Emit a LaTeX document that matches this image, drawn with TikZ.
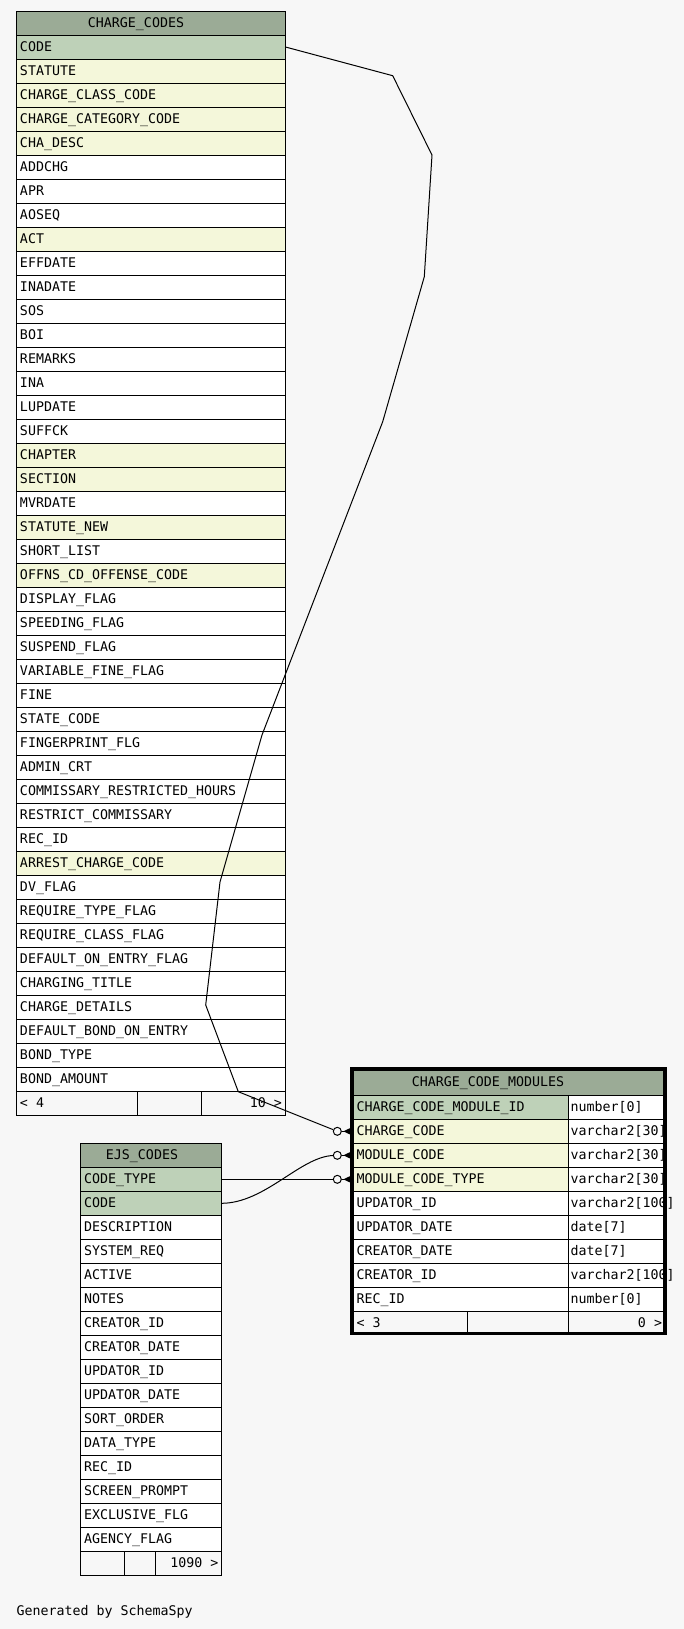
\documentclass[tikz,border=0pt]{standalone}
\usepackage{fontspec}
\newfontfamily\tabfont{DejaVu Sans Mono}
\definecolor{hdrc}{HTML}{9BAB96}
\definecolor{pkc}{HTML}{BED1B8}
\definecolor{fkc}{HTML}{F4F7DA}
\definecolor{bgc}{HTML}{F7F7F7}
\begin{document}
\begin{tikzpicture}[x=0.75pt,y=-0.75pt,
 cell/.style={draw=black,line width=0.75pt,inner sep=0pt,outer sep=0pt,anchor=north west,minimum height=18pt},
 txt/.style={inner sep=0pt,outer sep=0pt,anchor=base west,font=\tabfont\fontsize{9.97}{12}\selectfont},
 txr/.style={txt,anchor=base east},
 txc/.style={txt,anchor=base},
 conn/.style={draw=black,line width=0.75pt},
 odot/.style={circle,draw=black,line width=0.75pt,fill=bgc,minimum size=6pt,inner sep=0pt}]

\useasboundingbox[fill=bgc] (0,0) rectangle (684,1629);

% ---------------- CHARGE_CODES ----------------
\node[cell,fill=hdrc,minimum width=202.125pt] (cchd) at (16,11) {};
\node[txc] (cchdt) at (136,27) {CHARGE\_CODES};
\foreach[count=\i from 0] \nm/\c in {
 CODE/pkc, STATUTE/fkc, CHARGE\_CLASS\_CODE/fkc, CHARGE\_CATEGORY\_CODE/fkc, CHA\_DESC/fkc,
 ADDCHG/white, APR/white, AOSEQ/white, ACT/fkc, EFFDATE/white, INADATE/white, SOS/white,
 BOI/white, REMARKS/white, INA/white, LUPDATE/white, SUFFCK/white, CHAPTER/fkc, SECTION/fkc,
 MVRDATE/white, STATUTE\_NEW/fkc, SHORT\_LIST/white, OFFNS\_CD\_OFFENSE\_CODE/fkc,
 DISPLAY\_FLAG/white, SPEEDING\_FLAG/white, SUSPEND\_FLAG/white, VARIABLE\_FINE\_FLAG/white,
 FINE/white, STATE\_CODE/white, FINGERPRINT\_FLG/white, ADMIN\_CRT/white,
 COMMISSARY\_RESTRICTED\_HOURS/white, RESTRICT\_COMMISSARY/white, REC\_ID/white,
 ARREST\_CHARGE\_CODE/fkc, DV\_FLAG/white, REQUIRE\_TYPE\_FLAG/white, REQUIRE\_CLASS\_FLAG/white,
 DEFAULT\_ON\_ENTRY\_FLAG/white, CHARGING\_TITLE/white, CHARGE\_DETAILS/white,
 DEFAULT\_BOND\_ON\_ENTRY/white, BOND\_TYPE/white, BOND\_AMOUNT/white}{
 \node[cell,fill=\c,minimum width=202.125pt] (cc\i) at (16,{35+24*\i}) {};
 \node[txt] (cct\i) at (20,{51+24*\i}) {\nm};
}
\node[cell,fill=bgc,minimum width=90.975pt] (ccf1) at (16,1091) {};
\node[cell,fill=bgc,minimum width=48pt] (ccf2) at (137.3,1091) {};
\node[cell,fill=bgc,minimum width=63.15pt] (ccf3) at (201.3,1091) {};
\node[txt] (ccf1t) at (20,1107) {< 4};
\node[txr] (ccf3t) at (282,1107) {10 >};

% ---------------- EJS_CODES ----------------
\node[cell,fill=hdrc,minimum width=105.75pt] (ejhd) at (80.3,1143.3) {};
\node[txc] (ejhdt) at (142,1159.3) {EJS\_CODES};
\foreach[count=\i from 0] \nm/\c in {
 CODE\_TYPE/pkc, CODE/pkc, DESCRIPTION/white, SYSTEM\_REQ/white, ACTIVE/white, NOTES/white,
 CREATOR\_ID/white, CREATOR\_DATE/white, UPDATOR\_ID/white, UPDATOR\_DATE/white,
 SORT\_ORDER/white, DATA\_TYPE/white, REC\_ID/white, SCREEN\_PROMPT/white,
 EXCLUSIVE\_FLG/white, AGENCY\_FLAG/white}{
 \node[cell,fill=\c,minimum width=105.75pt] (ej\i) at (80.3,{1167.3+24*\i}) {};
 \node[txt] (ejt\i) at (84,{1183.3+24*\i}) {\nm};
}
\node[cell,fill=bgc,minimum width=33pt] (ejf1) at (80.3,1551.3) {};
\node[cell,fill=bgc,minimum width=23.25pt] (ejf2) at (124.3,1551.3) {};
\node[cell,fill=bgc,minimum width=49.5pt] (ejf3) at (155.3,1551.3) {};
\node[txr] (ejf3t) at (218.5,1567.3) {1090 >};

% ---------------- CHARGE_CODE_MODULES ----------------
\node[cell,fill=hdrc,minimum width=234.9pt,minimum height=19.69pt] (cmhd) at (351.75,1069.05) {};
\foreach[count=\i from 0] \nm/\c in {
 CHARGE\_CODE\_MODULE\_ID/pkc, CHARGE\_CODE/fkc, MODULE\_CODE/fkc, MODULE\_CODE\_TYPE/fkc,
 UPDATOR\_ID/white, UPDATOR\_DATE/white, CREATOR\_DATE/white, CREATOR\_ID/white, REC\_ID/white}{
 \node[cell,fill=\c,minimum width=162.41pt] (cm\i) at (351.75,{1095.3+24*\i}) {};
 \node[cell,fill=white,minimum width=72.49pt] (cmy\i) at (568.3,{1095.3+24*\i}) {};
}
\node[cell,fill=bgc,minimum width=86.66pt,minimum height=16.69pt] (cmf1) at (351.75,1311.3) {};
\node[cell,fill=bgc,minimum width=75.75pt,minimum height=16.69pt] (cmf2) at (467.3,1311.3) {};
\node[cell,fill=bgc,minimum width=72.49pt,minimum height=16.69pt] (cmf3) at (568.3,1311.3) {};
\node[txc] (cmhdt) at (488,1086.7) {CHARGE\_CODE\_MODULES};
\foreach[count=\i from 0] \nm/\ty in {
 CHARGE\_CODE\_MODULE\_ID/{number[0]}, CHARGE\_CODE/{varchar2[30]},
 MODULE\_CODE/{varchar2[30]}, MODULE\_CODE\_TYPE/{varchar2[30]},
 UPDATOR\_ID/{varchar2[100]}, UPDATOR\_DATE/{date[7]},
 CREATOR\_DATE/{date[7]}, CREATOR\_ID/{varchar2[100]}, REC\_ID/{number[0]}}{
 \node[txt] (cmt\i) at (356.5,{1111.3+24*\i}) {\nm};
 \node[txt] (cmyt\i) at (570.5,{1111.3+24*\i}) {\ty};
}
\node[txt] (cmf1t) at (356.5,1327.3) {< 3};
\node[txr] (cmf3t) at (662,1327.3) {0 >};
\draw[line width=2.625pt] (351.75,1069.05) rectangle (664.95,1333.55);

% ---------------- connectors ----------------
\node[odot] (o1) at (337.3,1131.3) {};
\node[odot] (o2) at (337.3,1155.3) {};
\node[odot] (o3) at (337.3,1179.3) {};
\foreach \k/\r in {1/1,2/2,3/3}{
 \draw[conn] (o\k.east) -- (cm\r.west);
 \fill[black] ([xshift=1.2pt]o\k.east) -- ([yshift=3pt]cm\r.west) -- ([yshift=-3pt]cm\r.west) -- cycle;
}
\draw[conn] (cc0.east) -- (392.7,75.7) -- (432,155) -- (424.3,276.7) -- (382.7,421.7)
 -- (262,735) -- (220,882) -- (205.7,1005) -- (238.3,1091.7) -- (o1);
\draw[conn] (ej0.east) -- (o3);
\draw[conn] (ej1.east) .. controls (265,1203.3) and (300,1157) .. (o2);

\node[txt] (gen) at (16.5,1615) {Generated by SchemaSpy};
\end{tikzpicture}
\end{document}
